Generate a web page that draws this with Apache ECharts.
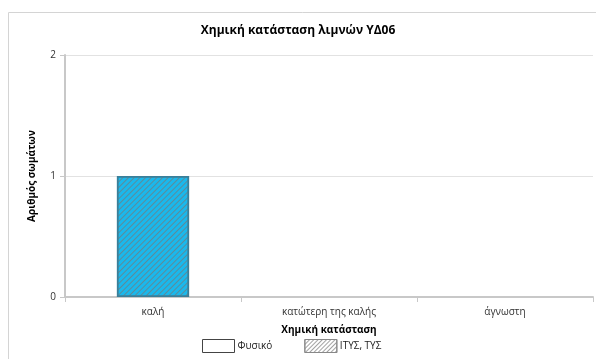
<!DOCTYPE html>
<html><head><meta charset="utf-8">
<script src="https://cdn.jsdelivr.net/npm/echarts@6/dist/echarts.min.js"></script>
<style>html,body{margin:0;padding:0;background:#fff}#c{width:596px;height:359px}</style>
</head><body><div id="c"></div>
<script>
const categories = ['καλή', 'κατώτερη της καλής', 'άγνωστη'];
const seriesNames = ['Φυσικό', 'ΙΤΥΣ, ΤΥΣ'];
const natural = [0, 0, 0];
const modified = [1, 0, 0];
const yTicks = [0, 1, 2];

const font = '"Open Sans", "Noto Sans", sans-serif';
const hatch = {symbol: 'rect', dashArrayX: [1, 0], dashArrayY: [1, 2.2], rotation: -Math.PI / 4, color: 'rgba(120,120,120,0.7)'};
const legendHatch = {symbol: 'rect', dashArrayX: [1, 0], dashArrayY: [1, 2], rotation: -Math.PI / 4, color: 'rgba(140,140,140,0.8)'};
const toData = (arr, style) => arr.map(v => ({value: v, itemStyle: v === 0 ? {borderWidth: 0, opacity: 0} : style}));
const chart = echarts.init(document.getElementById('c'), null, {renderer: 'canvas'});
chart.setOption({
  animation: false,
  aria: {enabled: false},
  graphic: [{type: 'rect', shape: {x: 8.5, y: 12.5, width: 600, height: 360}, style: {fill: 'none', stroke: '#d4d4d4', lineWidth: 1}}],
  title: {text: 'Χημική κατάσταση λιμνών ΥΔ06', left: 'center', top: 20,
    textStyle: {fontFamily: font, fontSize: 12, fontWeight: 'bold', color: '#000'}},
  legend: {data: [
      {name: seriesNames[0], icon: 'rect', itemStyle: {color: '#fff', borderColor: '#444', borderWidth: 1, decal: 'none'}},
      {name: seriesNames[1], icon: 'rect', itemStyle: {color: '#fff', borderColor: '#888', borderWidth: 1, decal: legendHatch}}],
    bottom: 1, left: 197, itemWidth: 32, itemHeight: 13, itemGap: 32,
    textStyle: {fontFamily: font, fontSize: 10, color: '#222', padding: [0, 0, 0, -2]}},
  grid: {left: 65, right: 3, top: 55, bottom: 62, containLabel: false},
  xAxis: {type: 'category', data: categories,
    name: 'Χημική κατάσταση', nameLocation: 'middle', nameGap: 28,
    nameTextStyle: {fontFamily: font, fontSize: 10, fontWeight: 'bold', color: '#000'},
    axisLine: {lineStyle: {color: '#c8c8c8', width: 2}},
    axisTick: {show: true, length: 5, lineStyle: {color: '#c8c8c8'}},
    axisLabel: {fontFamily: font, fontSize: 10, color: '#333', margin: 10}},
  yAxis: {type: 'value', min: 0, max: 2, interval: 1,
    name: 'Αριθμός σωμάτων', nameLocation: 'middle', nameGap: 28,
    nameTextStyle: {fontFamily: font, fontSize: 10, fontWeight: 'bold', color: '#000'},
    axisLine: {show: true, lineStyle: {color: '#c8c8c8', width: 2}},
    axisTick: {show: true, length: 5, inside: false, lineStyle: {color: '#c8c8c8'}},
    splitLine: {lineStyle: {color: '#e2e2e2'}},
    axisLabel: {fontFamily: font, fontSize: 10, color: '#333', margin: 9,
      formatter: v => yTicks.includes(v) ? String(v) : ''}},
  series: [
    {name: seriesNames[0], type: 'bar', stack: 's', barWidth: '41%',
      data: toData(natural, {color: '#fff', borderColor: '#555', borderWidth: 1}),
      itemStyle: {color: '#fff', borderColor: '#555', borderWidth: 1}},
    {name: seriesNames[1], type: 'bar', stack: 's', barWidth: '41%',
      data: toData(modified, {color: '#1ab8ec', borderColor: '#3a7f99', borderWidth: 1.5, decal: hatch}),
      itemStyle: {color: '#1ab8ec', borderColor: '#3a7f99', borderWidth: 1.5, decal: hatch}}
  ]
});
</script></body></html>
